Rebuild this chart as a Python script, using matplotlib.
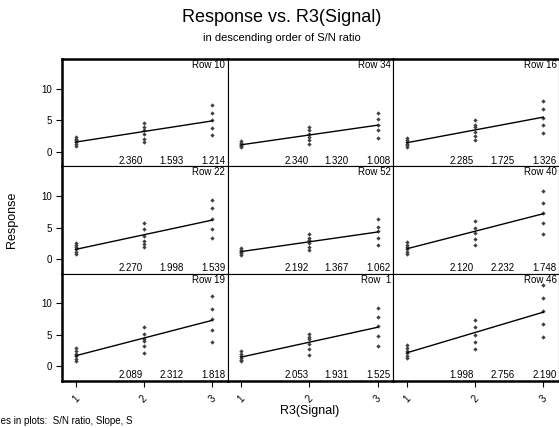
"""Response vs. R3(Signal) trellis, panels sorted by S/N ratio."""

import numpy as np
import matplotlib
matplotlib.use('Agg')
import matplotlib.pyplot as plt

plt.rcParams['font.family'] = ['Liberation Sans', 'DejaVu Sans']

# panel order: left to right, top to bottom
row_labels = ["Row 10", "Row 34", "Row 16",
              "Row 22", "Row 52", "Row 40",
              "Row 19", "Row  1", "Row 46"]
sn_ratio = ["2.360", "2.340", "2.285", "2.270", "2.192", "2.120", "2.089", "2.053", "1.998"]
slopes = ["1.593", "1.320", "1.725", "1.998", "1.367", "2.232", "2.312", "1.931", "2.756"]
s_values = ["1.214", "1.008", "1.326", "1.539", "1.062", "1.748", "1.818", "1.525", "2.190"]

signal_levels = [1, 2, 3]
# responses at signal level 1, 2 and 3 for each panel
resp_1 = [
    [0.9, 1.2, 1.5, 1.8, 2.1, 2.3],
    [0.7, 0.9, 1.0, 1.2, 1.4, 1.7],
    [0.7, 1.0, 1.3, 1.6, 1.9, 2.2],
    [0.8, 1.2, 1.6, 1.9, 2.2, 2.6],
    [0.7, 0.9, 1.1, 1.3, 1.5, 1.8],
    [0.8, 1.2, 1.6, 2.0, 2.3, 2.7],
    [0.9, 1.2, 1.6, 2.0, 2.4, 2.9],
    [0.8, 1.1, 1.4, 1.7, 2.0, 2.4],
    [1.3, 1.7, 2.1, 2.5, 2.9, 3.4],
]
resp_2 = [
    [1.5, 2.1, 2.8, 3.4, 3.9, 4.5],
    [1.2, 1.9, 2.4, 2.8, 3.4, 3.9],
    [1.8, 2.5, 3.2, 3.9, 4.3, 5.0],
    [1.9, 2.4, 2.8, 3.6, 4.7, 5.7],
    [1.4, 2.0, 2.5, 3.0, 3.4, 4.0],
    [2.3, 3.2, 4.2, 5.0, 6.0],
    [2.1, 3.3, 4.1, 4.4, 5.2, 6.3],
    [1.8, 2.7, 3.5, 4.3, 4.7, 5.2],
    [2.8, 3.9, 5.0, 6.2, 7.3],
]
resp_3 = [
    [2.6, 3.8, 5.0, 6.2, 7.4],
    [2.2, 3.4, 4.3, 5.2, 6.2],
    [3.0, 4.2, 5.4, 6.8, 8.1],
    [3.4, 4.8, 6.3, 8.1, 9.3],
    [2.2, 3.4, 4.5, 5.1, 6.4],
    [4.0, 5.7, 7.3, 8.9, 10.8],
    [3.9, 5.7, 7.5, 9.1, 11.1],
    [3.3, 4.8, 6.4, 7.8, 9.2],
    [4.6, 6.8, 8.8, 10.8, 12.9],
]

W, H = 559, 428
fig = plt.figure(figsize=(W / 100, H / 100), dpi=100)

left, top, bottom = 62, 59, 381
cell_w = (559 - left) / 3
cell_h = (bottom - top) / 3

for i in range(9):
    r, c = divmod(i, 3)
    ax = fig.add_axes([(left + c * cell_w) / W, 1 - (top + (r + 1) * cell_h) / H,
                       cell_w / W, cell_h / H])
    xs, ys = [], []
    for lvl, vals in zip(signal_levels, (resp_1[i], resp_2[i], resp_3[i])):
        xs += [lvl] * len(vals)
        ys += vals
    ax.plot(xs, ys, ls='none', marker='D', ms=2.2, color='#404040', mew=0)
    b, a = np.polyfit(xs, ys, 1)
    fx = np.array([signal_levels[0], signal_levels[-1]])
    ax.plot(fx, a + b * fx, color='black', lw=1.0)

    ax.set_xlim(0.8, 3.23)
    ax.set_ylim(-2.3, 14.7)
    ax.set_yticks([0, 5, 10])
    ax.set_xticks(signal_levels)

    ax.text(0.985, 0.99, row_labels[i], transform=ax.transAxes,
            ha='right', va='top', fontsize=7)
    for xf, txt in zip((0.487, 0.732, 0.985), (sn_ratio[i], slopes[i], s_values[i])):
        ax.text(xf, 0.005, txt, transform=ax.transAxes, ha='right', va='bottom', fontsize=7)

    for side in ('left', 'right', 'top', 'bottom'):
        ax.spines[side].set_linewidth(0.8)
    if c == 0:
        ax.spines['left'].set_linewidth(1.8)
        ax.tick_params(axis='y', length=4, width=0.8, pad=3, labelsize=7)
    else:
        ax.tick_params(axis='y', left=False, labelleft=False)
    if r == 0:
        ax.spines['top'].set_linewidth(1.8)
    if r == 2:
        ax.spines['bottom'].set_linewidth(1.8)
        ax.tick_params(axis='x', length=4, width=0.8, pad=5, labelsize=7)
        ax.set_xticklabels([str(v) for v in signal_levels], rotation=45, ha='center')
    else:
        ax.tick_params(axis='x', bottom=False, labelbottom=False)

fig.text(282 / W, 1 - 17 / H, "Response vs. R3(Signal)", ha='center', va='center', fontsize=13)
fig.text(282 / W, 1 - 38 / H, "in descending order of S/N ratio", ha='center', va='center', fontsize=8)
fig.text(12 / W, 1 - 220 / H, "Response", rotation=90, ha='center', va='center', fontsize=9)
fig.text(310 / W, 1 - 411 / H, "R3(Signal)", ha='center', va='center', fontsize=9)
fig.text(132 / W, 1 - 421 / H, "Values in plots:  S/N ratio, Slope, S", ha='right', va='center', fontsize=7)

fig.savefig("out.png", dpi=100)
